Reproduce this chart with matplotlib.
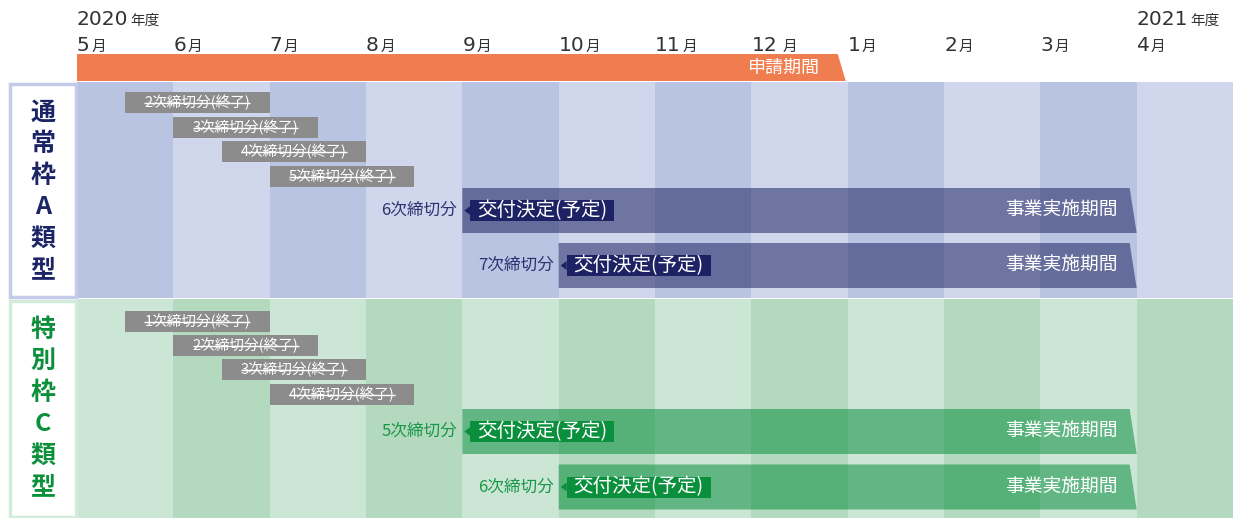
import matplotlib
matplotlib.use('Agg')
import matplotlib.pyplot as plt
from matplotlib.patches import Polygon, Rectangle

plt.rcParams['font.family'] = ['Noto Sans CJK JP', 'DejaVu Sans']

# --- data ---
months = ['5', '6', '7', '8', '9', '10', '11', '12', '1', '2', '3', '4']
fiscal_years = ['2020', '2021']
fiscal_year_col = [0, 11]
apply_end = 7.98          # 申請期間 (months from May)
project_end = 11.0        # 事業実施期間 end

sections = ['通常枠A類型', '特別枠C類型']
closed_labels = [['2次締切分(終了)', '3次締切分(終了)', '4次締切分(終了)', '5次締切分(終了)'],
                 ['1次締切分(終了)', '2次締切分(終了)', '3次締切分(終了)', '4次締切分(終了)']]
closed_start = [0.5, 1.0, 1.5, 2.0]
closed_len = 1.5
open_labels = [['6次締切分', '7次締切分'], ['5次締切分', '6次締切分']]
open_start = [4, 5]

# --- layout (pixels) ---
W, H = 1233, 518
x0 = 77
mw = (W - x0) / 12
px = 1 / mw
sec_top = [82, 299]
sec_bot = [298, 518]
gray_y = [[102.5, 127.5, 151.5, 176.5], [321, 345.5, 369.5, 394.5]]
big_y = [[210.5, 265.5], [431.5, 487]]

col_colors = [('#b9c3e2', '#d0d6ec'), ('#cce6d6', '#b3d9be')]
border_colors = ['#c3cbe8', '#d3ebdb']
title_colors = ['#1b2566', '#0b8f3b']
bar_colors = ['#1e2664', '#0a9040']
box_colors = ['#1c2263', '#0a8f3c']
label_colors = ['#2a3270', '#179845']
txt = '#333333'

fig = plt.figure(figsize=(W / 100, H / 100), dpi=100)
ax = fig.add_axes([0, 0, 1, 1])
ax.set_xlim(-x0 * px, 12)
ax.set_ylim(H, 0)
ax.axis('off')

# header (digits and the small 年度/月 share one baseline)
for yr, c in zip(fiscal_years, fiscal_year_col):
    t = ax.text(c, 25, yr, fontsize=14.5, color=txt, va='baseline', ha='left', family='DejaVu Sans')
    ax.annotate('年度', xy=(1, 25), xycoords=(t, 'data'), xytext=(1.5, 0), textcoords='offset points',
                fontsize=10.5, color=txt, va='baseline', ha='left')
for i, m in enumerate(months):
    t = ax.text(i, 51, m, fontsize=14.5, color=txt, va='baseline', ha='left', family='DejaVu Sans')
    ax.annotate('月', xy=(1, 51), xycoords=(t, 'data'), xytext=(4 if m == '12' else 1, 0),
                textcoords='offset points', fontsize=10.5, color=txt, va='baseline', ha='left')

# 申請期間
slant = 8 * px
ax.add_patch(Polygon([(0, 54), (apply_end - slant, 54), (apply_end, 81), (0, 81)],
                     closed=True, fc='#ef7d4f', ec='none'))
ax.text(apply_end - 26 * px, 68, '申請期間', fontsize=13, color='white', ha='right', va='center')

gray_texts = []
box_texts = []
for s in range(2):
    top, bot = sec_top[s], sec_bot[s]
    for i in range(12):
        ax.bar(i, bot - top, bottom=top, width=1, align='edge',
               color=col_colors[s][i % 2], linewidth=0)
    # label box
    ax.add_patch(Rectangle((-67 * px, top + 1.5), 66 * px, bot - top - 3,
                           fc='white', ec=border_colors[s], lw=2.5))
    for k, ch in enumerate(sections[s]):
        ax.text(-34 * px, top + 31 + k * 31.4, ch, fontsize=18, fontweight='bold',
                color=title_colors[s], ha='center', va='center')
    # closed deadlines
    for lab, st, y in zip(closed_labels[s], closed_start, gray_y[s]):
        ax.barh(y, closed_len, left=st, height=21, color='#8c8c8c', linewidth=0)
        t = ax.text(st + closed_len / 2, y, lab, fontsize=10.5, color='white',
                    ha='center', va='center')
        gray_texts.append((t, y))
    # open deadlines
    for lab, st, y in zip(open_labels[s], open_start, big_y[s]):
        yt, yb = y - 22.5, y + 22.5
        ax.add_patch(Polygon([(st, yt), (project_end - 7 * px, yt), (project_end, yb), (st, yb)],
                             closed=True, fc=bar_colors[s], ec='none', alpha=0.55))
        ax.text(st - 5 * px, y, lab, fontsize=12, color=label_colors[s], ha='right', va='center')
        t = ax.text(st + 15 * px, y, '交付決定(予定)', fontsize=14, color='white',
                    ha='left', va='center', zorder=4)
        box_texts.append((t, st, y, box_colors[s]))
        ax.add_patch(Polygon([(st + 2 * px, y), (st + 8 * px, y - 4.5), (st + 8 * px, y + 4.5)],
                             closed=True, fc=box_colors[s], ec='none', zorder=3))
        ax.text(project_end - 19 * px, y, '事業実施期間', fontsize=13.5, color='white',
                ha='right', va='center')

fig.canvas.draw()
r = fig.canvas.get_renderer()
inv = ax.transData.inverted()
for t, y in gray_texts:
    bb = t.get_window_extent(r)
    xa = inv.transform((bb.x0, 0))[0]
    xb = inv.transform((bb.x1, 0))[0]
    ax.plot([xa, xb], [y + 0.8, y + 0.8], color='white', lw=1, solid_capstyle='butt')
for t, st, y, c in box_texts:
    bb = t.get_window_extent(r)
    xb = inv.transform((bb.x1, 0))[0]
    ax.add_patch(Rectangle((st + 8 * px, y - 10.5), xb + 7 * px - (st + 8 * px), 21,
                           fc=c, ec='none', zorder=3))

fig.savefig('out.png', dpi=100)
